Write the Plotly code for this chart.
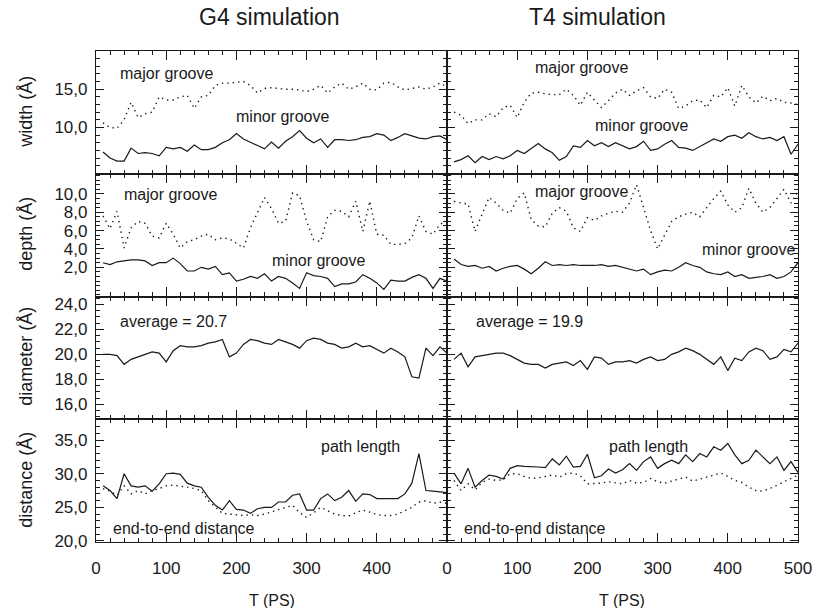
import plotly.graph_objects as go

T = list(range(10, 501, 10))

# ---- G4 simulation ----
g4_width_minor = [6.8, 6.0, 5.6, 5.6, 7.3, 6.6, 6.7, 6.6, 6.3, 7.4, 7.2, 7.4, 6.9, 7.7, 7.1, 7.1, 7.4, 8.0, 8.4, 9.2,
                  8.5, 8.1, 7.7, 7.2, 8.1, 7.3, 8.2, 8.8, 9.6, 8.6, 8.0, 8.5, 7.4, 8.4, 8.4, 8.3, 8.4, 8.7, 8.8, 9.2,
                  9.0, 8.3, 8.7, 9.2, 8.9, 8.6, 8.5, 8.8, 8.9, 8.4]
g4_width_major = [10.6, 10.0, 9.9, 11.0, 13.3, 11.3, 11.8, 12.0, 14.0, 13.6, 13.6, 14.0, 14.2, 12.5, 14.0, 14.2, 15.5,
                  15.8, 15.8, 15.9, 16.0, 15.5, 14.5, 15.1, 15.2, 15.1, 15.0, 15.0, 14.9, 14.7, 15.0, 15.5, 14.5, 15.3,
                  15.8, 15.0, 15.3, 15.8, 15.0, 14.9, 15.8, 15.9, 15.3, 14.9, 15.1, 15.3, 15.0, 15.3, 15.8, 15.3]
g4_depth_major = [7.6, 6.2, 8.1, 4.1, 6.3, 7.0, 6.8, 5.4, 5.2, 6.8, 5.6, 4.1, 4.8, 5.0, 5.4, 5.6, 5.0, 5.2, 5.1, 4.6,
                  4.1, 6.3, 8.0, 9.6, 8.4, 6.8, 7.0, 10.1, 9.8, 7.0, 5.0, 4.8, 7.5, 8.2, 8.1, 7.5, 9.2, 5.9, 9.2, 5.6,
                  5.5, 4.5, 4.5, 4.6, 5.2, 7.6, 5.9, 5.6, 6.7, 7.0]
g4_depth_minor = [2.5, 2.3, 2.6, 2.7, 2.8, 2.8, 2.7, 2.2, 2.5, 2.5, 3.0, 2.4, 1.6, 1.6, 2.0, 1.8, 2.1, 1.2, 1.4, 0.5,
                  0.7, 1.0, 0.8, 1.3, 0.5, 1.0, 0.8, 0.3, -0.3, 1.4, 1.1, 1.0, 0.8, -0.1, 0.2, 0.2, 0.4, 1.2, 0.8, 0.3,
                  -0.4, 0.6, 0.5, 0.5, 0.9, 1.2, 0.8, -0.3, 0.8, 0.5]
g4_diameter = [20.0, 20.0, 19.9, 19.2, 19.6, 19.8, 20.0, 20.2, 20.1, 19.4, 20.3, 20.7, 20.6, 20.6, 20.7, 20.9, 21.0,
               21.2, 19.8, 20.1, 20.8, 21.2, 21.1, 20.9, 20.8, 21.2, 21.0, 20.8, 20.5, 21.1, 21.3, 21.2, 20.9, 20.8,
               20.5, 20.6, 20.9, 20.6, 20.7, 20.4, 20.1, 20.5, 20.2, 19.8, 18.2, 18.1, 20.5, 19.9, 20.6, 20.1]
g4_path = [28.2, 27.5, 26.3, 30.0, 28.2, 28.0, 28.2, 27.4, 28.5, 30.0, 30.1, 29.9, 28.6, 28.2, 28.0, 26.5, 25.3, 24.6,
           26.0, 24.7, 24.6, 24.1, 24.8, 25.0, 25.0, 25.8, 25.8, 26.8, 27.0, 24.6, 24.6, 26.3, 27.0, 26.0, 26.5, 27.5,
           25.9, 27.0, 26.9, 26.3, 26.3, 26.3, 26.3, 27.0, 28.6, 33.0, 27.5, 27.4, 27.3, 27.2]
g4_end = [27.8, 27.4, 26.8, 28.2, 27.0, 27.5, 27.0, 27.5, 27.8, 28.2, 28.3, 28.2, 28.0, 27.8, 27.5, 26.0, 25.0, 24.1,
          24.0, 23.9, 23.8, 23.9, 23.8, 24.0, 24.3, 24.6, 25.0, 25.3, 24.2, 23.5, 24.2, 25.0, 24.5, 24.0, 23.8, 23.7,
          24.2, 24.6, 24.3, 23.9, 23.8, 23.8, 24.0, 24.5, 25.0, 25.8, 26.0, 25.6, 25.8, 25.6]

# ---- T4 simulation ----
t4_width_major = [12.0, 11.6, 10.5, 11.0, 11.0, 11.8, 11.4, 12.6, 12.9, 11.3, 13.3, 14.5, 14.6, 14.4, 14.3, 14.3, 15.0,
                  14.2, 12.9, 14.6, 13.6, 12.6, 13.5, 14.5, 15.0, 14.2, 14.8, 15.2, 14.0, 13.8, 15.0, 14.6, 12.5, 12.8,
                  13.5, 13.6, 12.6, 14.2, 14.0, 15.2, 12.8, 15.5, 14.0, 13.2, 14.1, 13.5, 13.8, 13.3, 13.2, 13.0]
t4_width_minor = [5.5, 5.8, 6.3, 5.4, 6.2, 5.8, 6.2, 5.9, 6.3, 7.0, 6.6, 7.2, 7.9, 7.2, 6.7, 5.7, 6.2, 7.6, 7.4, 8.3,
                  7.6, 8.0, 7.5, 8.0, 7.6, 7.2, 7.5, 8.2, 7.0, 7.2, 7.8, 8.3, 7.4, 7.3, 7.0, 7.5, 8.0, 8.5, 8.2, 8.8,
                  9.0, 8.6, 9.3, 8.8, 8.5, 8.7, 8.3, 8.8, 6.5, 7.8]
t4_depth_major = [9.2, 9.0, 8.9, 5.9, 7.8, 9.6, 9.0, 8.2, 7.9, 9.5, 10.1, 7.2, 6.5, 6.4, 7.9, 8.5, 8.1, 6.3, 5.9, 7.4,
                  7.1, 7.6, 7.9, 8.1, 8.0, 9.0, 11.0, 8.5, 6.0, 4.0, 5.5, 7.0, 7.5, 7.8, 8.0, 7.5, 8.5, 9.5, 10.3, 8.8,
                  8.0, 8.5, 10.6, 9.0, 8.0, 8.5, 9.5, 10.5, 9.0, 10.3]
t4_depth_minor = [2.9, 2.3, 2.1, 2.2, 1.9, 2.1, 1.6, 1.9, 2.1, 2.2, 1.8, 1.3, 1.9, 2.6, 2.2, 2.3, 2.2, 2.3, 2.2, 2.2,
                  2.2, 2.3, 2.1, 2.2, 2.0, 1.8, 1.6, 1.8, 1.2, 1.5, 1.7, 1.6, 2.0, 2.5, 2.2, 2.0, 1.5, 1.3, 1.2, 1.5,
                  1.0, 1.2, 0.8, 0.9, 1.0, 1.2, 0.8, 1.0, 1.5, 2.5]
t4_diameter = [19.6, 20.1, 19.0, 19.8, 19.9, 20.0, 20.1, 20.1, 19.9, 19.6, 19.3, 19.2, 19.2, 18.9, 19.2, 19.3, 19.4,
               19.1, 19.5, 18.8, 19.8, 19.7, 19.2, 19.4, 19.4, 19.5, 19.3, 19.6, 19.8, 19.5, 19.6, 20.0, 20.2, 20.5,
               20.3, 20.0, 19.6, 19.2, 19.8, 18.7, 19.7, 19.5, 20.2, 20.5, 20.3, 19.6, 19.8, 20.4, 20.2, 20.9]
t4_path = [30.1, 28.5, 30.8, 28.0, 29.0, 29.8, 29.6, 29.2, 30.8, 31.2, 31.1, 31.1, 31.0, 30.9, 32.2, 31.3, 32.6, 31.0,
           31.1, 32.9, 29.4, 29.7, 30.7, 30.1, 30.6, 31.5, 30.5, 31.8, 32.5, 30.8, 31.5, 32.0, 31.5, 32.8, 31.8, 33.0,
           32.5, 34.0, 33.5, 34.5, 32.8, 31.5, 32.0, 33.5, 32.5, 31.5, 32.5, 30.5, 31.8, 30.2]
t4_end = [29.0, 27.5, 28.5, 27.6, 28.7, 29.2, 29.0, 29.1, 30.0, 30.0, 29.6, 29.3, 29.4, 29.6, 29.8, 29.5, 30.0, 30.1,
          29.7, 28.5, 28.5, 28.6, 28.8, 28.7, 28.5, 29.0, 28.6, 28.7, 29.3, 28.8, 28.6, 28.9, 29.2, 29.5, 28.9, 29.2,
          29.5, 29.8, 30.1, 29.6, 29.0, 28.7, 28.0, 27.5, 27.4, 27.8, 28.3, 28.8, 29.3, 29.8]

col_titles = ["G4 simulation", "T4 simulation"]
row_titles = ["width (Å)", "depth (Å)", "diameter (Å)", "distance (Å)"]
y_ranges = [[3.95, 20.0], [-1.18, 12.19], [14.8, 24.64], [19.85, 38.1]]
y_ticks = [[10, 15], [2, 4, 6, 8, 10], [16, 18, 20, 22, 24], [20, 25, 30, 35]]
y_minor = [1, 0.5, 0.5, 1]
x_ticks_left = [0, 100, 200, 300, 400]
x_ticks_right = [0, 100, 200, 300, 400, 500]

panels = {
    (0, 0): [(g4_width_major, True), (g4_width_minor, False)],
    (0, 1): [(t4_width_major, True), (t4_width_minor, False)],
    (1, 0): [(g4_depth_major, True), (g4_depth_minor, False)],
    (1, 1): [(t4_depth_major, True), (t4_depth_minor, False)],
    (2, 0): [(g4_diameter, False)],
    (2, 1): [(t4_diameter, False)],
    (3, 0): [(g4_path, False), (g4_end, True)],
    (3, 1): [(t4_path, False), (t4_end, True)],
}

labels = [
    (0, 0, "major groove", 101, 17.1), (0, 0, "minor groove", 265, 11.4),
    (0, 1, "major groove", 192, 17.9), (0, 1, "minor groove", 277, 10.3),
    (1, 0, "major groove", 106, 9.9), (1, 0, "minor groove", 317, 2.75),
    (1, 1, "major groove", 192, 10.3), (1, 1, "minor groove", 430, 3.9),
    (2, 0, "average = 20.7", 110, 22.6), (2, 1, "average = 19.9", 118, 22.6),
    (3, 0, "path length", 377, 34.1), (3, 1, "path length", 287, 34.1),
    (3, 0, "end-to-end distance", 125, 21.9), (3, 1, "end-to-end distance", 125, 21.9),
]

FONT = "Liberation Sans, Arial, sans-serif"
INK = "#1a1a1a"
W, H = 824, 608
L, R, TOP, BOT = 96, 806, 51, 542

fig = go.Figure()
layout = dict(
    width=W, height=H, margin=dict(l=L, r=W - R, t=TOP, b=H - BOT),
    paper_bgcolor="white", plot_bgcolor="white", showlegend=False,
    separators=",.", font=dict(family=FONT, size=17, color=INK),
)

annotations = []
for r in range(4):
    for c in range(2):
        k = r * 2 + c + 1
        xa = "xaxis" if k == 1 else f"xaxis{k}"
        ya = "yaxis" if k == 1 else f"yaxis{k}"
        xref = "x" if k == 1 else f"x{k}"
        yref = "y" if k == 1 else f"y{k}"
        for series, dotted in panels[(r, c)]:
            fig.add_trace(go.Scatter(
                x=T, y=series, mode="lines", xaxis=xref, yaxis=yref,
                line=dict(color=INK, width=1.4 if dotted else 1.2,
                          dash="1.4px,4px" if dotted else "solid"),
                hoverinfo="skip"))
        layout[xa] = dict(
            domain=[0.5 * c, 0.5 * (c + 1)], anchor=yref, range=[0, 500],
            showline=True, linecolor=INK, linewidth=1.2, mirror="allticks",
            ticks="inside", ticklen=9, tickwidth=1, tickcolor=INK,
            tickvals=x_ticks_left if c == 0 else x_ticks_right,
            showticklabels=(r == 3), ticklabelstandoff=10,
            tickfont=dict(family=FONT, size=17, color=INK),
            minor=dict(dtick=20, ticklen=4, ticks="inside", tickcolor=INK, tickwidth=1),
            showgrid=False, zeroline=False, fixedrange=True)
        layout[ya] = dict(
            domain=[1 - 0.25 * (r + 1), 1 - 0.25 * r], anchor=xref, range=y_ranges[r],
            showline=True, linecolor=INK, linewidth=1.2, mirror="allticks",
            ticks="inside", ticklen=8, tickwidth=1, tickcolor=INK,
            tickvals=y_ticks[r], tickformat=".1f",
            showticklabels=(c == 0), ticklabelstandoff=4,
            tickfont=dict(family=FONT, size=17, color=INK),
            minor=dict(dtick=y_minor[r], ticklen=4, ticks="inside", tickcolor=INK, tickwidth=1),
            showgrid=False, zeroline=False, fixedrange=True)

for r, c, text, x, y in labels:
    k = r * 2 + c + 1
    annotations.append(dict(
        text=text, x=x, y=y, xref="x" if k == 1 else f"x{k}", yref="y" if k == 1 else f"y{k}",
        showarrow=False, font=dict(family=FONT, size=16, color=INK), xanchor="center", yanchor="middle"))

for c, (title, px) in enumerate(zip(col_titles, [271, 603])):
    annotations.append(dict(
        text=title, x=(px - L) / (R - L), y=(BOT - 17) / (BOT - TOP), xref="paper", yref="paper",
        showarrow=False, font=dict(family=FONT, size=23, color=INK), xanchor="center", yanchor="middle"))

row_centers = [112, 234, 356, 480]
for r, title in enumerate(row_titles):
    annotations.append(dict(
        text=title, x=(25 - L) / (R - L), y=(BOT - row_centers[r]) / (BOT - TOP),
        xref="paper", yref="paper", textangle=-90, showarrow=False,
        font=dict(family=FONT, size=18, color=INK), xanchor="center", yanchor="middle"))

for px in [274, 628]:
    annotations.append(dict(
        text="T (PS)", x=(px - L) / (R - L), y=(BOT - 600) / (BOT - TOP), xref="paper", yref="paper",
        showarrow=False, font=dict(family=FONT, size=16, color=INK), xanchor="center", yanchor="middle"))

layout["annotations"] = annotations
fig.update_layout(**layout)
fig.write_html("out.html")
